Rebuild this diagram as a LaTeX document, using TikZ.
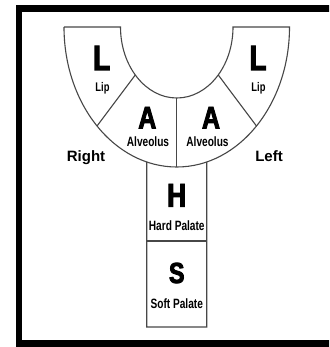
\documentclass[tikz,border=0pt]{standalone}
\usepackage{fontspec}
\setmainfont{Liberation Sans}
\newfontfamily\cond[FakeStretch=0.75]{Liberation Sans Bold}
\newfontfamily\heavy[FakeStretch=0.8,FakeBold=3]{Liberation Sans Bold}
\begin{document}
\begin{tikzpicture}[x=1pt,y=-1pt,
  outline/.style={draw=black!72,line width=1.1pt,line join=miter},
  bigletter/.style={anchor=base,inner sep=0pt},
  smalllabel/.style={anchor=base,inner sep=0pt},
  sidelabel/.style={anchor=base,inner sep=0pt,font=\bfseries\fontsize{15}{15}\selectfont}]
\useasboundingbox (0,0) rectangle (329,347);
\clip (0,0) rectangle (329,347);
\fill[white] (0,0) rectangle (329,347);
\draw[line width=6.6pt] (18.8,8.7) rectangle (360,343.7);
\coordinate (oc) at (176.75,27);
% U shape outline
\draw[outline] (64,27) -- (120.5,27)
  arc[start angle=180,end angle=0,x radius=56.25,y radius=71]
  -- (289.5,27)
  arc[start angle=0,end angle=180,x radius=112.75,y radius=140];
% dividers
\path (oc) ++(137.5:56.25 and 71) coordinate (li);
\path (oc) ++(135:112.75 and 140) coordinate (lo);
\path (oc) ++(42.5:56.25 and 71) coordinate (ri);
\path (oc) ++(45:112.75 and 140) coordinate (ro);
\path (oc) ++(90:56.25 and 71) coordinate (ci);
\path (oc) ++(90:112.75 and 140) coordinate (co);
\draw[outline] (li) -- (lo);
\draw[outline] (ri) -- (ro);
\draw[outline] (ci) -- (co);
% stem
\path (oc) ++(105.43:112.75 and 140) coordinate (stl);
\path (oc) ++(74.57:112.75 and 140) coordinate (str);
\coordinate (sbl) at (146.75,327);
\coordinate (sbr) at (206.75,327);
\coordinate (sml) at (146.75,241);
\coordinate (smr) at (206.75,241);
\draw[outline] (stl) -- (sbl) -- (sbr) -- (str);
\draw[outline] (sml) -- (smr);
% labels
\node[bigletter,font=\heavy\fontsize{35}{35}\selectfont] (L1) at (101.7,70) {L};
\node[smalllabel,font=\cond\fontsize{12.5}{12.5}\selectfont] (lip1) at (102.5,92) {Lip};
\node[bigletter,font=\heavy\fontsize{35}{35}\selectfont] (L2) at (258,70) {L};
\node[smalllabel,font=\cond\fontsize{12.5}{12.5}\selectfont] (lip2) at (258.5,92) {Lip};
\node[bigletter,font=\heavy\fontsize{31}{31}\selectfont] (A1) at (147.3,128.3) {A};
\node[smalllabel,font=\cond\fontsize{13.5}{13.5}\selectfont] (al1) at (148,147) {Alveolus};
\node[bigletter,font=\heavy\fontsize{31}{31}\selectfont] (A2) at (211,128.3) {A};
\node[smalllabel,font=\cond\fontsize{13.5}{13.5}\selectfont] (al2) at (207.5,147) {Alveolus};
\node[sidelabel] (right) at (86,161) {Right};
\node[sidelabel] (left) at (269,161) {Left};
\node[bigletter,font=\heavy\fontsize{33}{33}\selectfont] (H) at (176.75,206.7) {H};
\node[smalllabel,font=\cond\fontsize{13.5}{13.5}\selectfont] (hp) at (176.75,230) {Hard Palate};
\node[bigletter,font=\heavy\fontsize{29}{29}\selectfont] (S) at (176.75,283) {S};
\node[smalllabel,font=\cond\fontsize{13.5}{13.5}\selectfont] (sp) at (176.75,308) {Soft Palate};
\end{tikzpicture}
\end{document}
